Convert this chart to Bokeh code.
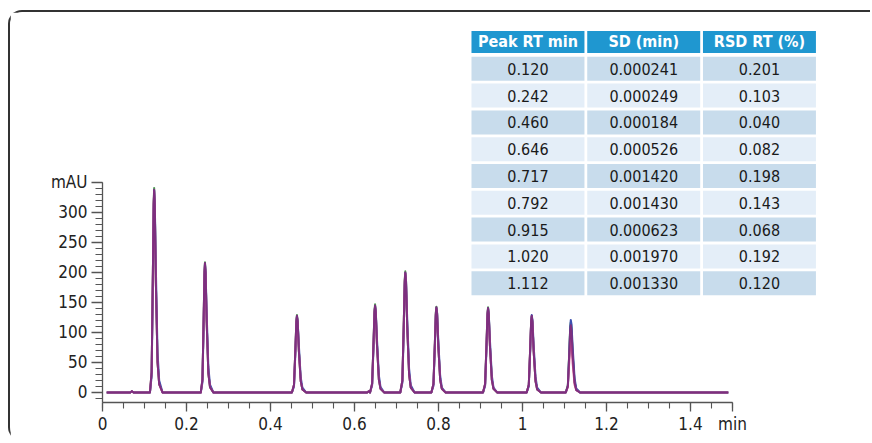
from bokeh.plotting import figure
from bokeh.models import Range1d, FixedTicker, ColumnDataSource
from bokeh.core.properties import value
from bokeh.embed import file_html
from bokeh.resources import INLINE

FONT = "DejaVu Sans Condensed"

# ---------------- data ----------------
# retention time axis (min) shared by the overlaid replicate runs
time_min = [0.010, 0.066, 0.070, 0.074,
            0.113, 0.117, 0.120, 0.1218, 0.123, 0.1245, 0.127, 0.131, 0.135, 0.143,
            0.234, 0.238, 0.241, 0.2428, 0.244, 0.2455, 0.248, 0.252, 0.256, 0.264,
            0.451, 0.456, 0.4595, 0.4616, 0.463, 0.4647, 0.4675, 0.472, 0.476, 0.485,
            0.630, 0.634,
            0.637, 0.642, 0.6455, 0.6476, 0.649, 0.6507, 0.6535, 0.658, 0.662, 0.671,
            0.709, 0.714, 0.7175, 0.7196, 0.721, 0.7227, 0.7255, 0.730, 0.734, 0.743,
            0.783, 0.788, 0.7915, 0.7936, 0.795, 0.7967, 0.7995, 0.804, 0.808, 0.817,
            0.906, 0.911, 0.9145, 0.9166, 0.918, 0.9197, 0.9225, 0.927, 0.931, 0.940,
            1.010, 1.015, 1.0185, 1.0206, 1.022, 1.0237, 1.0265, 1.031, 1.035, 1.044,
            1.103, 1.108, 1.1115, 1.1136, 1.115, 1.1167, 1.1195, 1.124, 1.128, 1.137,
            1.280, 1.490]

run_green = [0, 0, 2, 0,
             0, 34, 205, 317, 341, 314, 188, 51, 14, 0,
             0, 22, 130, 202, 217, 200, 119, 33, 9, 0,
             0, 13, 77, 120, 129, 119, 71, 19, 5, 0,
             0, 2,
             0, 15, 88, 137, 147, 135, 81, 22, 6, 0,
             0, 20, 121, 188, 202, 186, 111, 30, 8, 0,
             0, 14, 86, 133, 143, 132, 79, 21, 6, 0,
             0, 14, 85, 132, 142, 131, 78, 21, 6, 0,
             0, 13, 76, 118, 127, 117, 70, 19, 5, 0,
             0, 12, 70, 109, 117, 108, 64, 18, 5, 0,
             0, 0]

run_blue = [0, 0, 2, 0,
            0, 27, 185, 303, 337, 317, 209, 67, 20, 0,
            0, 17, 118, 193, 214, 201, 133, 43, 13, 0,
            0, 10, 70, 114, 127, 119, 79, 25, 8, 0,
            0, 2,
            0, 12, 79, 130, 144, 135, 89, 29, 9, 0,
            0, 16, 109, 179, 199, 187, 123, 40, 12, 0,
            0, 11, 78, 127, 141, 133, 87, 28, 8, 0,
            0, 11, 77, 126, 140, 132, 87, 28, 8, 0,
            0, 10, 71, 116, 129, 121, 80, 26, 8, 0,
            0, 10, 67, 109, 121, 114, 75, 24, 7, 0,
            0, 0]

run_pink = [0, 0, 2, 0,
            0, 34, 201, 312, 335, 308, 184, 50, 13, 0,
            0, 21, 128, 198, 213, 196, 117, 32, 9, 0,
            0, 13, 76, 117, 126, 116, 69, 19, 5, 0,
            0, 2,
            0, 14, 86, 133, 143, 132, 79, 21, 6, 0,
            0, 20, 119, 184, 198, 182, 109, 30, 8, 0,
            0, 14, 84, 130, 140, 129, 77, 21, 6, 0,
            0, 14, 83, 129, 139, 128, 76, 21, 6, 0,
            0, 13, 76, 117, 126, 116, 69, 19, 5, 0,
            0, 9, 53, 82, 88, 81, 48, 13, 4, 0,
            0, 0]

run_purple = [0, 0, 2, 0,
              0, 34, 203, 314, 338, 311, 186, 51, 14, 0,
              0, 22, 130, 201, 216, 199, 119, 32, 9, 0,
              0, 13, 77, 119, 128, 118, 70, 19, 5, 0,
              0, 2,
              0, 15, 87, 135, 145, 133, 80, 22, 6, 0,
              0, 20, 120, 186, 200, 184, 110, 30, 8, 0,
              0, 14, 85, 132, 142, 131, 78, 21, 6, 0,
              0, 14, 85, 131, 141, 130, 78, 21, 6, 0,
              0, 13, 77, 119, 128, 118, 70, 19, 5, 0,
              0, 11, 67, 104, 112, 103, 62, 17, 4, 0,
              0, 0]

runs = [run_green, run_blue, run_pink, run_purple]
run_colors = ["#4f9a55", "#3c50b0", "#d2508f", "#7d2f7f"]

# table
table_headers = ["Peak RT min", "SD (min)", "RSD RT (%)"]
peak_rt = ["0.120", "0.242", "0.460", "0.646", "0.717", "0.792", "0.915", "1.020", "1.112"]
sd_min = ["0.000241", "0.000249", "0.000184", "0.000526", "0.001420",
          "0.001430", "0.000623", "0.001970", "0.001330"]
rsd_rt = ["0.201", "0.103", "0.040", "0.082", "0.198", "0.143", "0.068", "0.192", "0.120"]

# axes
x_ticks = [0, 0.2, 0.4, 0.6, 0.8, 1.0, 1.2, 1.4, 1.5]
x_tick_labels = ["0", "0.2", "0.4", "0.6", "0.8", "1", "1.2", "1.4", "min"]
y_ticks = [0, 50, 100, 150, 200, 250, 300, 350]
y_tick_labels = ["0", "50", "100", "150", "200", "250", "300", "mAU"]

# ---------------- figure ----------------
p = figure(width=862, height=431, output_backend="svg", toolbar_location=None,
           x_range=Range1d(0, 1.8048), y_range=Range1d(-16.67, 633.3),
           min_border_left=92, min_border_right=12, min_border_top=0,
           min_border_bottom=41)
p.margin = (10, 0, 0, 8)
p.styles = {"border-top": "2px solid #333333",
            "border-left": "2px solid #333333",
            "border-top-left-radius": "14px",
            "border-bottom-left-radius": "14px"}
p.xgrid.visible = False
p.ygrid.visible = False
p.outline_line_color = None
p.background_fill_color = "white"
p.border_fill_color = "white"

axis_color = "#555555"
xa = p.xaxis[0]
xa.ticker = FixedTicker(ticks=x_ticks,
                        minor_ticks=[round(0.05 * i, 2) for i in range(0, 31)])
xa.major_label_overrides = dict(zip(x_ticks, x_tick_labels))
xa.bounds = (0, 1.5)
ya = p.yaxis[0]
ya.ticker = FixedTicker(ticks=y_ticks, minor_ticks=list(range(-10, 351, 10)))
ya.major_label_overrides = dict(zip(y_ticks, y_tick_labels))
ya.bounds = (-16.67, 350)

for ax in (xa, ya):
    ax.axis_line_color = axis_color
    ax.axis_line_width = 1.3
    ax.major_tick_line_color = axis_color
    ax.minor_tick_line_color = axis_color
    ax.major_tick_line_width = 1.3
    ax.minor_tick_line_width = 1.1
    ax.major_tick_in = 0
    ax.minor_tick_in = 0
    ax.major_label_text_font = FONT
    ax.major_label_text_font_size = "17px"
    ax.major_label_text_color = "#222222"
xa.major_tick_out = 9
xa.minor_tick_out = 6
xa.major_label_standoff = 2
ya.major_tick_out = 11
ya.minor_tick_out = 7
ya.major_label_standoff = 4

# chromatogram traces
for vals, col in zip(runs, run_colors):
    p.line(time_min, vals, line_color=col, line_width=2.0, line_join="round")

# ---------------- table ----------------
p.extra_x_ranges = {"tx": Range1d(-3.676, 2.873)}
p.extra_y_ranges = {"ty": Range1d(13.451, -1.1007)}

cols = [peak_rt, sd_min, rsd_rt]
hsrc = ColumnDataSource(dict(x=[0, 1, 2], y=[0, 0, 0], text=table_headers))

cx, cy, ct, cf = [], [], [], []
for r in range(len(peak_rt)):
    for c in range(3):
        cx.append(c)
        cy.append(r + 1)
        ct.append(cols[c][r])
        cf.append("#c8dcec" if r % 2 == 0 else "#e4eef8")
csrc = ColumnDataSource(dict(x=cx, y=cy, text=ct, fill=cf))

p.rect("x", "y", width=0.976, height=0.82, source=hsrc, fill_color="#1f97d0",
       line_color=None, x_range_name="tx", y_range_name="ty")
p.rect("x", "y", width=0.976, height=0.895, source=csrc, fill_color="fill",
       line_color=None, x_range_name="tx", y_range_name="ty")
p.text("x", "y", text="text", source=hsrc, text_font=value(FONT),
       text_font_style="bold", text_font_size="16px", text_color="white",
       text_align="center", text_baseline="middle",
       x_range_name="tx", y_range_name="ty")
p.text("x", "y", text="text", source=csrc, text_font=value(FONT),
       text_font_size="16px", text_color="#1a1a1a",
       text_align="center", text_baseline="middle",
       x_range_name="tx", y_range_name="ty")

open("out.html", "w").write(file_html(p, INLINE))
